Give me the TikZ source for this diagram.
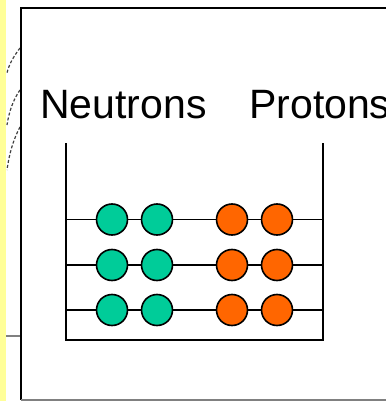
\documentclass[tikz,border=0pt]{standalone}
\usepackage{fontspec}
\setmainfont{Liberation Sans}
\definecolor{neutroncol}{RGB}{0,204,153}
\definecolor{protoncol}{RGB}{255,102,0}
\definecolor{stripcol}{RGB}{255,255,153}
\begin{document}
\begin{tikzpicture}[x=1pt,y=-1pt,
  nucleon/.style={circle,draw=black,line width=1.6pt,minimum size=31pt,inner sep=0pt},
  neutron/.style={nucleon,fill=neutroncol},
  proton/.style={nucleon,fill=protoncol},
  wall/.style={draw=black,line width=1.6pt},
  arcline/.style={black!75,densely dashed,line width=1.2pt},
  label/.style={font=\fontsize{41}{45}\selectfont,anchor=base west,inner sep=0pt}]
\useasboundingbox (0,0) rectangle (385,401);
\fill[white] (0,0) rectangle (385,401);
% yellow strip
\fill[stripcol] (0,0) rectangle (6,401);
% dashed arcs
\draw[arcline] (20,48) .. controls (14,56) and (9,64) .. (7,73);
\draw[arcline] (20,90) .. controls (13,100) and (9,112) .. (7,125);
\draw[arcline] (20,127) .. controls (13,140) and (9,155) .. (7,170);
% gray stub
\draw[gray,line width=1.4pt] (6,336) -- (21,336);
% outer frame
\draw[black,line width=1.9pt] (390,8) -- (21,8) -- (21,400);
\draw[gray,line width=1.6pt] (21,400) -- (390,400);
% labels
\node[label] (neu) at (40,118) {Neutrons};
\node[label] (pro) at (249,118) {Protons};
% container
\coordinate (tl) at (66,143);
\coordinate (bl) at (66,340);
\coordinate (br) at (323,340);
\coordinate (tr) at (323,143);
\draw[wall] (tl) -- (bl) -- (br) -- (tr);
% rows
\foreach \r/\y in {1/219.5,2/265,3/310}{
  \coordinate (L\r) at (66,\y);
  \coordinate (R\r) at (323,\y);
  \node[neutron] (n\r a) at (112,\y) {};
  \node[neutron] (n\r b) at (157,\y) {};
  \node[proton] (p\r a) at (232,\y) {};
  \node[proton] (p\r b) at (277,\y) {};
  \draw[wall] (L\r) -- (n\r a) -- (n\r b) -- (p\r a) -- (p\r b) -- (R\r);
}
\end{tikzpicture}
\end{document}
